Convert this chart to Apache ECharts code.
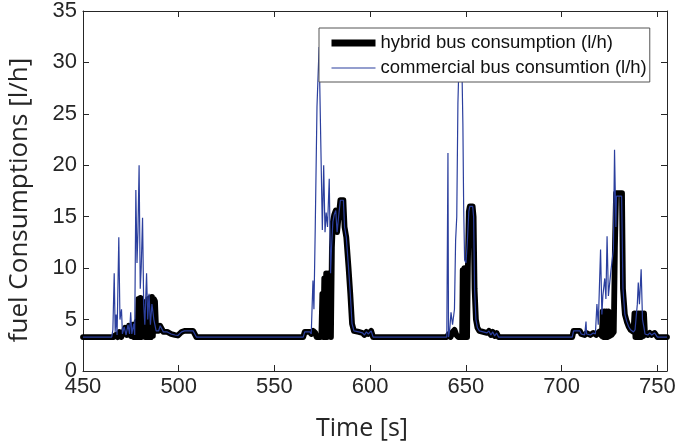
<!DOCTYPE html>
<html>
<head>
<meta charset="utf-8">
<script src="https://cdn.jsdelivr.net/npm/echarts@6/dist/echarts.min.js"></script>
<style>
  html, body { margin: 0; padding: 0; background: #fff; }
  #chart { width: 676px; height: 445px; }
</style>
</head>
<body>
<div id="chart"></div>
<script>
// hybrid bus (thick black line)
const hybridTime = [
  450, 466, 467, 468, 469, 470, 471, 472, 473, 474, 475, 476, 476.5, 477, 477.5, 478, 478.5,
  479, 479.5, 480, 480.5, 481, 481.5, 482, 482.5, 483, 483.5, 484, 484.5, 485, 485.5, 486,
  486.5, 487, 487.6, 488.2, 489.5, 490.3, 491.3, 492, 494, 496, 498, 499.5, 500.5, 501.5,
  503, 507.5, 508.5, 509.2,
  565, 565.8, 568.5, 569.2, 570.2, 571.3, 572, 574, 574.5, 575, 575.5, 576, 576.5, 577,
  577.5, 578, 578.5, 579, 579.5, 580, 580.5, 581.2, 582, 582.7, 583.5, 584.4, 586, 586.6,
  587.5, 588.7, 589.6, 590.5, 591.5, 594, 596, 597, 598, 599, 600.5, 601.5,
  640, 641, 642, 643, 644, 645, 646, 648, 648.3, 648.8, 649.2, 649.7, 650.1, 650.6, 651,
  651.5, 652, 653.5, 654, 654.5, 655.2, 656, 657, 659, 661, 662, 663, 664, 665, 666, 667,
  705.5, 706.2, 709.5, 710.2, 712, 713, 715, 716.5, 718, 719.5, 721, 721.4, 721.9, 722.4,
  722.9, 723.4, 723.9, 724.4, 724.9, 726, 727.2, 727.8, 728.4, 731.5, 732, 733, 734, 735,
  736, 737.5, 738, 738.5, 739, 739.5, 740, 740.5, 741, 741.5, 742, 742.5, 743, 743.5, 745,
  746, 747, 748.5, 750, 755
];
const hybridFuel = [
  3.3, 3.3, 3.5, 3.3, 3.8, 3.3, 3.7, 4.2, 3.5, 4.4, 3.4, 4.5, 3.3, 4.4, 3.3, 4.8, 3.3,
  7.0, 3.3, 7.1, 3.3, 6.8, 3.5, 4.6, 3.3, 5.0, 3.3, 7.0, 3.3, 7.1, 3.3, 7.2,
  3.4, 7.0, 6.8, 3.9, 3.9, 4.4, 4.4, 3.8, 3.8, 3.6, 3.5, 3.45, 3.6, 3.8,
  3.9, 3.9, 3.8, 3.3,
  3.3, 3.8, 3.8, 3.6, 3.9, 3.7, 3.3, 3.3, 3.6, 7.5, 3.3, 9.0, 3.3, 9.5,
  3.3, 9.5, 3.4, 9.3, 3.3, 12.0, 14.5, 15.2, 15.6, 13.5, 15.0, 16.6, 16.6, 14.0,
  13.0, 10.0, 7.5, 4.6, 3.9, 3.8, 3.7, 3.5, 3.8, 3.6, 3.9, 3.3,
  3.3, 3.6, 3.3, 3.8, 4.0, 3.5, 3.3, 3.3, 9.8, 3.3, 10.0, 3.3, 10.0, 3.3, 10.0,
  15.5, 16.0, 16.0, 15.0, 8.0, 5.0, 4.2, 3.9, 3.8, 3.7, 3.9, 3.5, 3.8, 3.4, 3.7, 3.3,
  3.3, 3.9, 3.9, 3.6, 3.5, 3.7, 3.5, 3.7, 3.5, 3.8, 3.4, 5.8, 3.3, 5.8,
  3.3, 5.8, 3.3, 5.8, 3.4, 3.5, 3.8, 12.0, 17.3, 17.3, 8.0, 5.5, 4.8, 4.3,
  4.0, 3.8, 5.6, 3.3, 5.6, 3.3, 5.6, 3.3, 5.6, 3.3, 5.6, 3.4, 5.6, 3.6, 3.5,
  3.7, 3.5, 3.7, 3.3, 3.3
];

// commercial bus (thin blue line)
const commercialTime = [
  450, 465, 465.6, 466.3, 466.8, 467.3, 467.8, 468.7, 469.3, 470.1, 470.6, 471.5, 472.5,
  473.5, 474.3, 474.9, 475.5, 476.5, 477, 477.6, 478.2, 478.7, 479.3, 479.9, 480.4, 481.1,
  481.7, 482.3, 483.2, 483.8, 484.5, 485.2, 486, 487, 488.2, 489.5, 490.3, 491.3, 492, 494,
  496, 498, 499.5, 500.5, 501.5, 503, 507.5, 508.5, 509.2,
  565, 565.8, 568.5, 569.2, 569.7, 570.1, 570.6, 571.3, 572.2, 573.3, 573.9, 575, 575.7,
  576.4, 577, 577.7, 578.6, 579.3, 579.8, 580.5, 581.2, 582, 582.7, 583.5, 584.4, 586,
  586.6, 587.5, 588.7, 589.6, 590.5, 591.5, 594, 596, 597, 598, 599, 600.5, 601.5,
  640, 640.3, 640.6, 640.9, 641.5, 642.2, 643, 644, 644.6, 645.2, 645.8, 646.3, 647.2,
  647.9, 648.4, 648.8, 649.3, 650, 650.7, 651.5, 652, 653.5, 654, 654.5, 655.2, 656, 657,
  659, 661, 662, 663, 664, 665, 666, 667,
  705.5, 706.2, 709.5, 710.2, 712, 712.4, 712.7, 713, 715, 716.5, 717.6, 718.4, 719.1,
  720.3, 721, 721.5, 722.5, 723.1, 723.7, 724.4, 725.8, 727, 727.6, 728.3, 728.6, 731.3,
  732, 733, 734, 735, 736, 737.5, 738.3, 739.5, 740, 740.6, 741.5, 742.2, 743, 743.5,
  745, 746, 747, 748.5, 750, 755
];
const commercialFuel = [
  3.3, 3.3, 4.0, 9.5, 3.8, 5.5, 3.5, 13.0, 5.0, 6.0, 3.6, 4.3, 3.5,
  4.5, 3.6, 5.7, 3.6, 4.6, 3.5, 17.6, 10.5, 13.5, 20.0, 8.0, 10.0, 14.9,
  6.5, 4.5, 9.5, 5.0, 7.5, 4.5, 6.5, 5.0, 3.9, 3.9, 4.4, 4.4, 3.8, 3.8,
  3.6, 3.5, 3.45, 3.6, 3.8, 3.9, 3.9, 3.8, 3.3,
  3.3, 3.8, 3.8, 3.6, 3.5, 8.8, 6.0, 14.0, 25.7, 31.5, 31.5, 13.7, 20.0,
  13.5, 15.4, 14.0, 18.7, 9.5, 12.0, 14.5, 15.2, 15.6, 13.5, 15.0, 16.6, 16.6,
  14.0, 13.0, 10.0, 7.5, 4.6, 3.9, 3.8, 3.7, 3.5, 3.8, 3.6, 3.9, 3.3,
  3.3, 3.3, 21.2, 3.3, 4.0, 5.7, 4.5, 6.0, 12.7, 15.0, 26.0, 29.5, 30.0,
  29.5, 24.0, 16.0, 10.8, 10.5, 12.5, 15.5, 16.0, 16.0, 15.0, 8.0, 5.0, 4.2, 3.9,
  3.8, 3.7, 3.9, 3.5, 3.8, 3.4, 3.7, 3.3,
  3.3, 3.9, 3.9, 3.6, 3.5, 3.5, 4.8, 3.6, 3.5, 3.7, 3.6, 6.5, 4.5,
  11.8, 5.5, 7.3, 9.0, 7.0, 13.1, 7.3, 9.9, 11.8, 21.5, 14.0, 17.0, 17.0,
  8.0, 5.5, 4.8, 4.3, 4.0, 3.8, 4.0, 6.5, 8.6, 6.5, 9.9, 5.0, 4.2, 3.6,
  3.5, 3.7, 3.5, 3.7, 3.3, 3.3
];

const seriesNames = ['hybrid bus consumption (l/h)', 'commercial bus consumtion (l/h)'];
const timeTicks = { min: 450, max: 755, interval: 50 };
const fuelTicks = { min: 0, max: 35, interval: 5 };

const axisColor = '#262626';
const hybridColor = '#000';
const commercialColor = '#2b3f9e';
const zip = (xs, ys) => xs.map((x, i) => [x, ys[i]]);

const chart = echarts.init(document.getElementById('chart'), null, { renderer: 'canvas' });

const frameAxis = (position) => ({
  type: 'value',
  position,
  axisLine: { show: true, onZero: false, lineStyle: { color: axisColor, width: 1 } },
  axisTick: { show: true, inside: true, length: 6, lineStyle: { color: axisColor } },
  splitLine: { show: false },
});

chart.setOption({
  animation: false,
  backgroundColor: '#fff',
  grid: { left: 83, right: 9, top: 11, bottom: 74, containLabel: false, outerBoundsMode: 'none' },
  legend: {
    data: [
      { name: seriesNames[0], itemStyle: { opacity: 0 }, lineStyle: { width: 7, color: hybridColor, cap: 'butt' } },
      { name: seriesNames[1], itemStyle: { opacity: 0 }, lineStyle: { width: 1.2, color: commercialColor } },
    ],
    orient: 'vertical',
    left: 319,
    top: 28,
    backgroundColor: '#fff',
    borderColor: '#555',
    borderWidth: 1,
    padding: [5, 3, 4, 9],
    itemWidth: 44,
    itemHeight: 14,
    itemGap: 5,
    textStyle: { fontFamily: 'Liberation Sans', fontSize: 18.5, color: '#111', lineHeight: 20 },
  },
  xAxis: [
    {
      ...frameAxis('bottom'),
      ...timeTicks,
      name: 'Time [s]',
      nameLocation: 'middle',
      nameGap: 45,
      nameTextStyle: { fontFamily: 'Open Sans', fontSize: 25, color: axisColor, padding: [0, 26, 0, 0] },
      axisLabel: {
        fontFamily: 'Liberation Sans', fontSize: 22, color: axisColor, margin: 5,
        showMaxLabel: false,
      },
    },
    {
      ...frameAxis('top'),
      ...timeTicks,
      axisLabel: { show: false },
    },
  ],
  yAxis: [
    {
      ...frameAxis('left'),
      ...fuelTicks,
      name: 'fuel Consumptions [l/h]',
      nameLocation: 'middle',
      nameGap: 50,
      nameTextStyle: { fontFamily: 'Open Sans', fontSize: 26, color: axisColor, padding: [0, 18, 0, 0] },
      axisLabel: { fontFamily: 'Liberation Sans', fontSize: 22, color: axisColor, margin: 6 },
    },
    {
      ...frameAxis('right'),
      ...fuelTicks,
      axisLabel: { show: false },
    },
  ],
  series: [
    {
      name: seriesNames[0],
      type: 'line',
      data: zip(hybridTime, hybridFuel),
      symbol: 'none',
      lineStyle: { color: hybridColor, width: 5.8, join: 'round', cap: 'round' },
      itemStyle: { color: hybridColor },
      z: 2,
    },
    {
      name: seriesNames[1],
      type: 'line',
      data: zip(commercialTime, commercialFuel),
      symbol: 'none',
      lineStyle: { color: commercialColor, width: 1.2 },
      itemStyle: { color: commercialColor },
      z: 3,
    },
  ],
});
</script>
</body>
</html>
